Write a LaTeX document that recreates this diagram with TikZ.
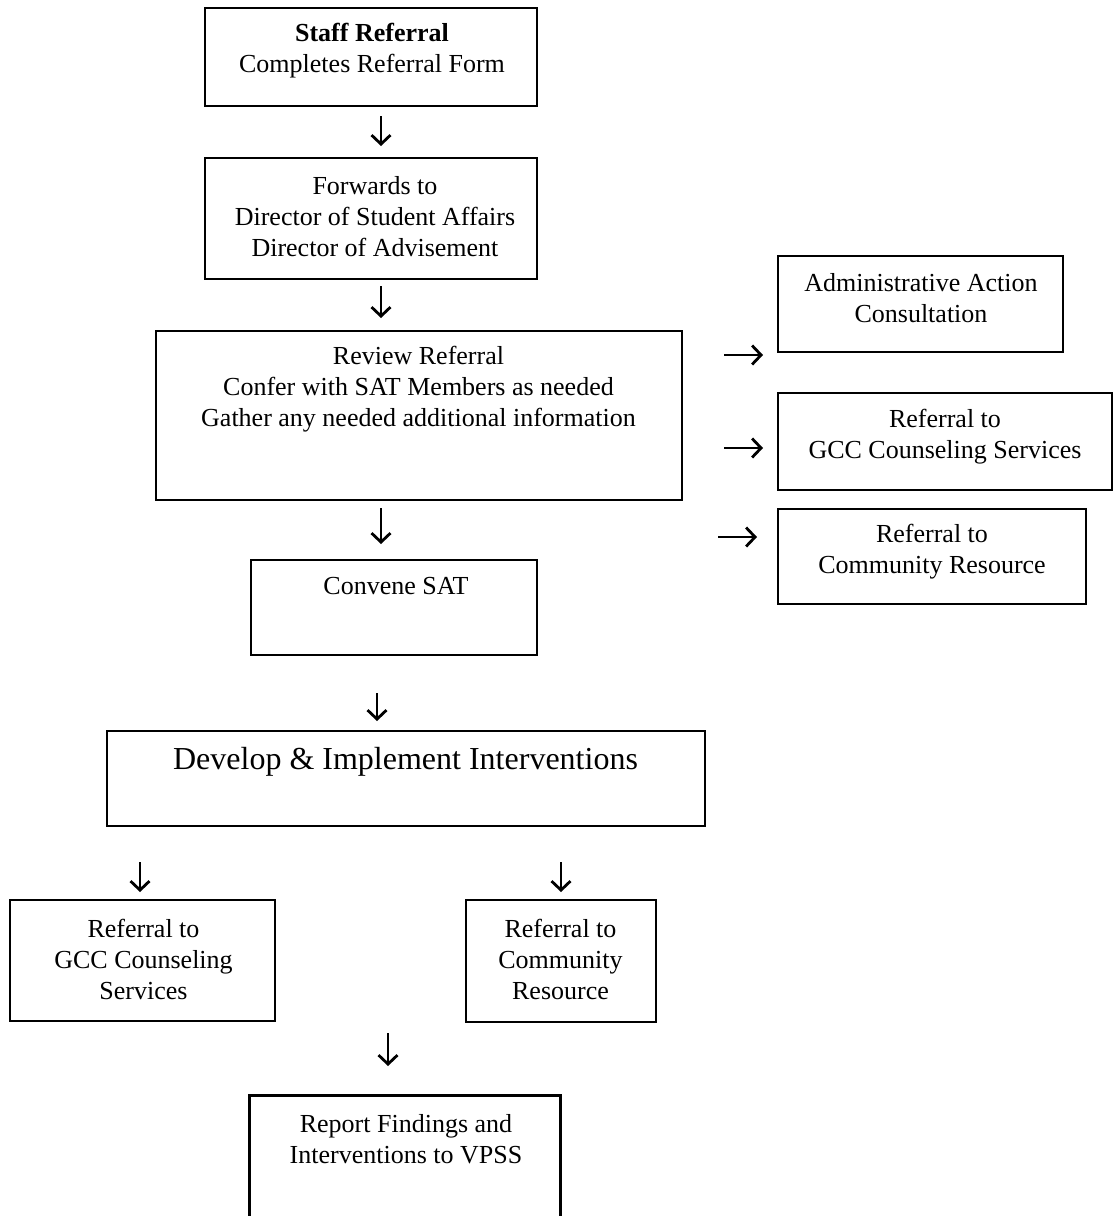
\documentclass[tikz,border=0pt]{standalone}
\usepackage{fontspec}
\setmainfont{Liberation Serif}
\usetikzlibrary{arrows.meta}
\begin{document}
\begin{tikzpicture}[x=1pt,y=-1pt,
  box/.style={draw, line width=2.8pt, inner sep=0pt},
  openbox/.style={inner sep=0pt},
  txt/.style={align=center, inner sep=0pt, font=\fontsize{26}{31}\selectfont},
  bigtxt/.style={align=center, inner sep=0pt, font=\fontsize{32}{36}\selectfont},
  arr/.style={line width=2.8pt, -{Straight Barb[length=9pt,width=19pt,line width=2.8pt]}}]
\useasboundingbox (0,0) rectangle (1114,1216);

% boxes
\node[box, minimum width=332pt, minimum height=98pt]  (b1)  at (371,57)     {};
\node[box, minimum width=332pt, minimum height=121pt] (b2)  at (371,218.5)  {};
\node[box, minimum width=526pt, minimum height=169pt] (b3)  at (419,415.5)  {};
\node[box, minimum width=285pt, minimum height=96pt]  (b4)  at (920.5,304)  {};
\node[box, minimum width=334pt, minimum height=97pt]  (b5)  at (945,441.5)  {};
\node[box, minimum width=308pt, minimum height=95pt]  (b6)  at (932,556.5)  {};
\node[box, minimum width=286pt, minimum height=95pt]  (b7)  at (394,607.5)  {};
\node[box, minimum width=598pt, minimum height=95pt]  (b8)  at (406,778.5)  {};
\node[box, minimum width=265pt, minimum height=121pt] (b9)  at (142.5,960.5) {};
\node[box, minimum width=190pt, minimum height=122pt] (b10) at (561,961)    {};
\node[openbox, minimum width=310pt, minimum height=144pt] (b11) at (405,1168) {};
\draw[line width=2.8pt] (b11.south west) |- (b11.north east) -- (b11.south east);

% texts
\node[txt] (t1)  at (372,50.5)  {\textbf{Staff Referral}\\Completes Referral Form};
\node[txt] (t2)  at (375,217)   {Forwards to\\Director of Student Affairs\\Director of Advisement};
\node[txt] (t3)  at (418.5,389.5) {Review Referral\\Confer with SAT Members as needed\\Gather any needed additional information};
\node[txt] (t4)  at (921,298.5) {Administrative Action\\Consultation};
\node[txt] (t5)  at (945,436.5) {Referral to\\GCC Counseling Services};
\node[txt] (t6)  at (932,551.5) {Referral to\\Community Resource};
\node[txt] (t7)  at (396,586)   {Convene SAT};
\node[bigtxt] (t8) at (405.5,762) {Develop \& Implement Interventions};
\node[txt] (t9)  at (143.5,959) {Referral to\\GCC Counseling\\Services};
\node[txt] (t10) at (560.5,959) {Referral to\\Community\\Resource};
\node[txt] (t11) at (406,1139.5) {Report Findings and\\Interventions to VPSS};

% arrow end points
\coordinate (a1s) at (381,116);  \coordinate (a1e) at (381,146);
\coordinate (a2s) at (381,286);  \coordinate (a2e) at (381,318);
\coordinate (a3s) at (381,508);  \coordinate (a3e) at (381,544);
\coordinate (a4s) at (377,693);  \coordinate (a4e) at (377,721);
\coordinate (a5s) at (140,862);  \coordinate (a5e) at (140,892);
\coordinate (a6s) at (561,862);  \coordinate (a6e) at (561,892);
\coordinate (a7s) at (388,1033); \coordinate (a7e) at (388,1066);
\coordinate (h1s) at (724,355);  \coordinate (h1e) at (763,355);
\coordinate (h2s) at (724,448);  \coordinate (h2e) at (763,448);
\coordinate (h3s) at (718,537);  \coordinate (h3e) at (757,537);

\foreach \a in {a1,a2,a3,a4,a5,a6,a7,h1,h2,h3}
  \draw[arr] (\a s) -- (\a e);
\end{tikzpicture}
\end{document}
